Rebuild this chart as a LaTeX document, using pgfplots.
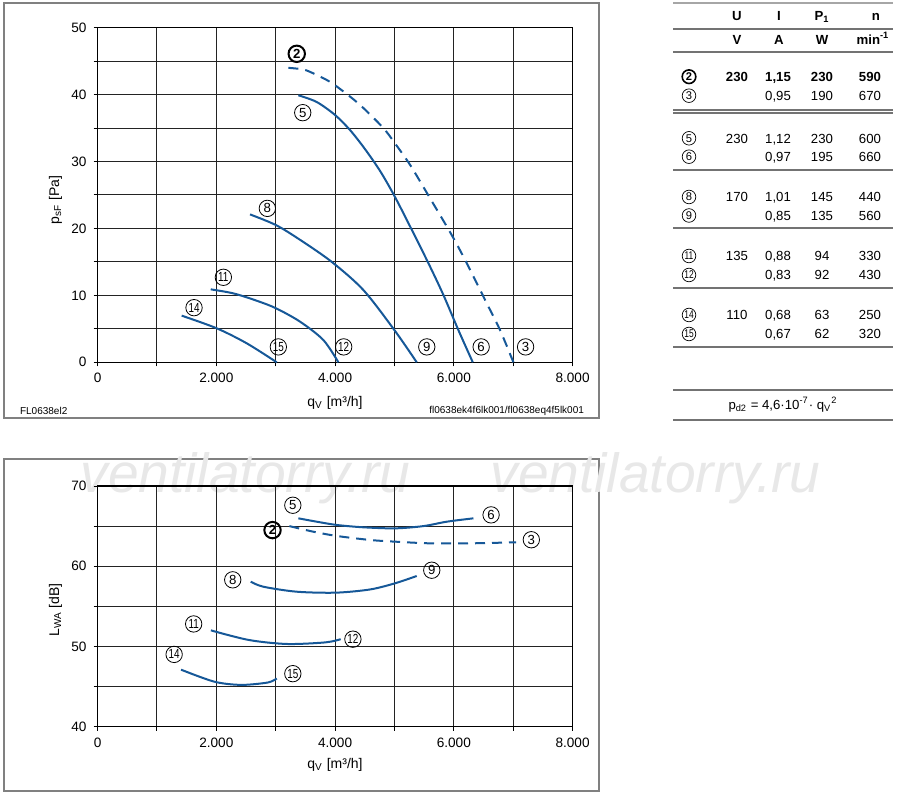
\documentclass[border=0pt]{standalone}
\usepackage{fontspec}
\setmainfont{Liberation Sans}
\usepackage{pgfplots}
\pgfplotsset{compat=1.18}
\definecolor{cblue}{RGB}{22,88,152}
\definecolor{grd}{RGB}{35,35,35}
\tikzset{
 cl/.style={circle,draw=black,line width=0.4pt,inner sep=0pt,minimum size=8.2pt,font=\fontsize{6.6}{6.6}\selectfont},
 clb/.style={cl,line width=1pt,font=\fontsize{6.6}{6.6}\selectfont\bfseries},
 tc/.style={circle,draw=black,line width=0.35pt,inner sep=0pt,minimum size=6.8pt,font=\fontsize{5.6}{5.6}\selectfont},
 tcb/.style={tc,line width=0.8pt,font=\fontsize{5.6}{5.6}\selectfont\bfseries},
 tt/.style={anchor=base,inner sep=0pt,font=\fontsize{6.6}{7}\selectfont},
}
\pgfplotsset{
 fc/.style={color=cblue,line width=1pt,mark=none},
 fd/.style={fc,dash pattern=on 5pt off 3.5pt},
}
\newcommand{\nn}[1]{\scalebox{0.75}[1]{#1}}
\newcommand{\trow}[5]{%
 \node[tt] at (368.5pt,#1-2.4pt) {#2};
 \node[tt] at (389pt,#1-2.4pt) {#3};
 \node[tt] at (411pt,#1-2.4pt) {#4};
 \node[tt] at (435pt,#1-2.4pt) {#5};}
\pgfplotsset{fanax/.style={
 scale only axis, width=237.5pt, xmin=0, xmax=8000,
 xtick={0,1000,...,8000}, xticklabels={0,,2.000,,4.000,,6.000,,8.000},
 grid=major, major grid style={grd,line width=0.5pt},
 axis line style={black,line width=0.75pt},
 tick align=outside, tick pos=left, major tick length=2pt,
 tick style={black,line width=0.5pt},
 ticklabel style={font=\fontsize{6.8}{8}\selectfont},
 clip=false,
}}
\begin{document}
\begin{tikzpicture}
\path[use as bounding box] (0,0) rectangle (450pt,398.5pt);
% frames
\draw[black!50,line width=0.8pt] (2pt,189.5pt) rectangle (299.5pt,397pt);
\draw[black!50,line width=0.8pt] (2pt,3pt) rectangle (299.5pt,169pt);
% watermark
\node[anchor=base west,inner sep=0pt,text=black!9,font=\fontsize{27.6}{28}\selectfont\itshape] at (40pt,152pt) {ventilatorry.ru};
\node[anchor=base west,inner sep=0pt,text=black!9,font=\fontsize{27.6}{28}\selectfont\itshape] at (245pt,152pt) {ventilatorry.ru};

% ---------- top chart ----------
\begin{axis}[fanax, at={(48.8pt,217.35pt)}, anchor=south west, height=167.3pt,
 ymin=0, ymax=50, ytick={0,5,...,50}, yticklabels={0,,10,,20,,30,,40,,50}]
\addplot[fd,smooth] coordinates {(3213,44.0)(3438,43.8)(3578,43.4)(3915,41.9)(4252,39.7)(4476,38.0)(4813,35.0)(5010,32.7)(5263,29.5)(5600,24.5)(5965,19.0)(6218,14.8)(6555,8.8)(6779,4.8)(7003,0)};
\addplot[fc,smooth] coordinates {(3381,39.9)(3690,38.9)(4000,36.95)(4252,34.7)(4500,31.9)(4757,28.6)(5000,24.85)(5263,20.3)(5572,14.8)(5824,10.06)(6077,4.8)(6319,0)};
\addplot[fc,smooth] coordinates {(2567,22.1)(3005,20.5)(3410,18.3)(3944,15.0)(4476,10.8)(5000,4.8)(5375,0)};
\addplot[fc,smooth] coordinates {(1905,10.9)(2286,10.3)(2680,9.2)(3005,8.07)(3410,6.07)(3802,3.33)(4055,0)};
\addplot[fc,smooth] coordinates {(1416,6.97)(2006,5.08)(2511,2.84)(3017,0)};
\node[clb] at (axis cs:3354,46.1) {2};
\node[cl] at (axis cs:3455,37.3) {5};
\node[cl] at (axis cs:2859,23.0) {8};
\node[cl] at (axis cs:2118,12.7) {\nn{11}};
\node[cl] at (axis cs:1624,8.16) {\nn{14}};
\node[cl] at (axis cs:3044,2.3) {\nn{15}};
\node[cl] at (axis cs:4145,2.3) {\nn{12}};
\node[cl] at (axis cs:5544,2.3) {9};
\node[cl] at (axis cs:6460,2.3) {6};
\node[cl] at (axis cs:7208,2.3) {3};
\end{axis}
\node[font=\fontsize{7}{8}\selectfont] at (167.5pt,197pt) {q\textsubscript{V} [m³/h]};
\node[rotate=90,font=\fontsize{7}{8}\selectfont] at (27.75pt,298.5pt) {p\textsubscript{sF} [Pa]};
\node[anchor=west,font=\fontsize{5}{6}\selectfont] at (6.5pt,193.2pt) {FL0638el2};
\node[anchor=east,font=\fontsize{5}{6}\selectfont] at (295.5pt,193.2pt) {fl0638ek4f6lk001/fl0638eq4f5lk001};

% ---------- bottom chart ----------
\begin{axis}[fanax, at={(48.8pt,35.2pt)}, anchor=south west, height=120.3pt,
 ymin=40, ymax=70, ytick={40,45,...,70}, yticklabels={40,,50,,60,,70}]
\addplot[fc,smooth] coordinates {(3381,65.97)(3690,65.55)(4028,65.14)(4476,64.85)(5010,64.72)(5487,65.0)(5881,65.55)(6330,65.97)};
\addplot[fd,smooth] coordinates {(3230,65.0)(3634,64.3)(4028,63.77)(4589,63.27)(5010,63.06)(5600,62.85)(6274,62.85)(7049,62.98)};
\addplot[fc,smooth] coordinates {(2579,58.07)(2792,57.44)(3354,56.82)(4011,56.7)(4589,57.1)(5010,57.87)(5375,58.78)};
\addplot[fc,smooth] coordinates {(1908,52.0)(2547,50.8)(3191,50.3)(3836,50.5)(4094,50.9)};
\addplot[fc,smooth] coordinates {(1405,47.1)(1966,45.6)(2418,45.2)(2869,45.5)(3017,46.0)};
\node[cl] at (axis cs:3288,67.6) {5};
\node[cl] at (axis cs:6627,66.4) {6};
\node[clb] at (axis cs:2946,64.5) {2};
\node[cl] at (axis cs:7305,63.3) {3};
\node[cl] at (axis cs:2276,58.3) {8};
\node[cl] at (axis cs:5628,59.5) {9};
\node[cl] at (axis cs:1618,52.8) {\nn{11}};
\node[cl] at (axis cs:4300,50.9) {\nn{12}};
\node[cl] at (axis cs:1289,49.0) {\nn{14}};
\node[cl] at (axis cs:3288,46.6) {\nn{15}};
\end{axis}
\node[font=\fontsize{7}{8}\selectfont] at (167.5pt,16pt) {q\textsubscript{V} [m³/h]};
\node[rotate=90,font=\fontsize{7}{8}\selectfont] at (27.75pt,93.5pt) {L\textsubscript{WA} [dB]};

% ---------- table ----------
\draw[black!35,line width=0.6pt] (336.5pt,397pt) -- (446.5pt,397pt);
\foreach \yy in {384,372.5,343.5,342,313.5,284.5,254.5,225,203.5,188.5}
  \draw[black!55,line width=0.6pt] (336.5pt,\yy pt) -- (446.5pt,\yy pt);
\node[tt,font=\fontsize{6.6}{7}\selectfont\bfseries] at (368.5pt,388.1pt) {U};
\node[tt,font=\fontsize{6.6}{7}\selectfont\bfseries] at (389.5pt,388.1pt) {I};
\node[tt,font=\fontsize{6.6}{7}\selectfont\bfseries] at (411pt,388.1pt) {P\textsubscript{1}};
\node[tt,font=\fontsize{6.6}{7}\selectfont\bfseries] at (438pt,388.1pt) {n};
\node[tt,font=\fontsize{6.6}{7}\selectfont\bfseries] at (368.5pt,376.1pt) {V};
\node[tt,font=\fontsize{6.6}{7}\selectfont\bfseries] at (389.5pt,376.1pt) {A};
\node[tt,font=\fontsize{6.6}{7}\selectfont\bfseries] at (411pt,376.1pt) {W};
\node[tt,font=\fontsize{6.6}{7}\selectfont\bfseries] at (436.5pt,376.1pt) {min\textsuperscript{-1}};
\node[tcb] at (344.5pt,360.15pt) {2};
\node[tc] at (344.5pt,350.65pt) {3};
\node[tc] at (344.5pt,329.35pt) {5};
\node[tc] at (344.5pt,320.15pt) {6};
\node[tc] at (344.5pt,300pt) {8};
\node[tc] at (344.5pt,290.75pt) {9};
\node[tc] at (344.5pt,270.5pt) {\nn{11}};
\node[tc] at (344.5pt,261pt) {\nn{12}};
\node[tc] at (344.5pt,241pt) {\nn{14}};
\node[tc] at (344.5pt,231.5pt) {\nn{15}};
\begin{scope}[tt/.append style={font=\fontsize{6.6}{7}\selectfont\bfseries}]
\trow{360.15pt}{230}{1,15}{230}{590}
\end{scope}
\trow{350.65pt}{}{0,95}{190}{670}
\trow{329.35pt}{230}{1,12}{230}{600}
\trow{320.15pt}{}{0,97}{195}{660}
\trow{300pt}{170}{1,01}{145}{440}
\trow{290.75pt}{}{0,85}{135}{560}
\trow{270.5pt}{135}{0,88}{94}{330}
\trow{261pt}{}{0,83}{92}{430}
\trow{241pt}{110}{0,68}{63}{250}
\trow{231.5pt}{}{0,67}{62}{320}
\node[font=\fontsize{6.6}{7}\selectfont] at (391.5pt,196pt) {p\textsubscript{d2} = 4,6·10\textsuperscript{-7}· q\textsubscript{V}\textsuperscript{2}};
\end{tikzpicture}
\end{document}
